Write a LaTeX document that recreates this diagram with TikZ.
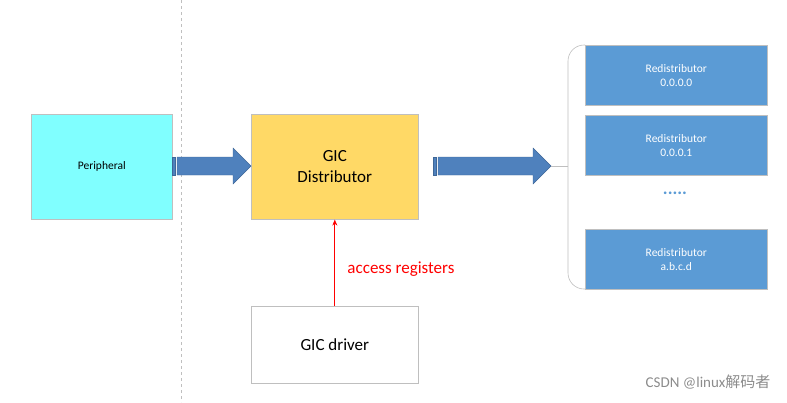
\documentclass[tikz,border=0pt]{standalone}
\usepackage{fontspec}
\setmainfont{Carlito}
\newfontfamily\cjk{Noto Sans CJK SC}
\usetikzlibrary{arrows.meta}
\definecolor{rb}{HTML}{5B9BD5}
\definecolor{ab}{HTML}{4F81BD}
\definecolor{gy}{HTML}{BFBFBF}
\definecolor{cy}{HTML}{80FFFF}
\definecolor{yl}{HTML}{FFD966}
\begin{document}
\begin{tikzpicture}[x=1pt,y=-1pt,
 box/.style={draw=gy,line width=0.6pt,minimum width=#1,anchor=north west,align=center,inner sep=0pt},
 redist/.style={box=182pt,fill=rb,draw=gy,minimum height=60pt,text=white,font=\fontsize{11.5}{14}\selectfont},
 blk/.style={fill=ab,draw=ab!80!black,line width=0.4pt}]
\useasboundingbox (0,0) rectangle (787,402);
\draw[gy,dashed,line width=0.6pt] (181,0) -- (181,402);
\node[box=141pt,fill=cy,minimum height=105pt,font=\fontsize{11.5}{14}\selectfont] (per) at (31,114) {Peripheral};
\node[box=167pt,fill=yl,minimum height=105pt,font=\fontsize{17}{21}\selectfont] (dist) at (251,114) {GIC\\Distributor};
\node[box=167pt,fill=white,minimum height=77pt,font=\fontsize{17}{21}\selectfont] (drv) at (251,306) {GIC driver};
\node[redist] (r0) at (585,45) {Redistributor\\0.0.0.0};
\node[redist] (r1) at (585,115) {Redistributor\\0.0.0.1};
\node[redist] (r2) at (585,229) {Redistributor\\a.b.c.d};
\node[text=rb,font=\fontsize{18}{18}\selectfont\bfseries] (dots) at (675,193) {.....};
% block arrows
\fill[blk] (172,157) rectangle (175,175);
\filldraw[blk] (177,157) -- (233,157) -- (233,148) -- (251,166) -- (233,184) -- (233,175) -- (177,175) -- cycle;
\fill[blk] (433,157) rectangle (436,175);
\filldraw[blk] (438,157) -- (533,157) -- (533,148) -- (551,166) -- (533,184) -- (533,175) -- (438,175) -- cycle;
% brace
\draw[gy,line width=0.6pt,rounded corners=16pt] (585,45) -- (568,45) -- (568,289) -- (585,289);
\coordinate (bm) at (568,166);
\draw[gy,line width=0.6pt] (bm) -- (551,166);
% red arrow
\draw[red,line width=0.7pt,-{Stealth[length=6pt,width=5pt]}] (drv.north) -- (dist.south) node[pos=0.43,right=9pt,font=\fontsize{17}{21}\selectfont] {access registers};
\node[anchor=east,text=gray!90,font=\fontsize{15}{17}\selectfont] (wm) at (774,382) {CSDN @linux{\cjk 解码者}};
\end{tikzpicture}
\end{document}
